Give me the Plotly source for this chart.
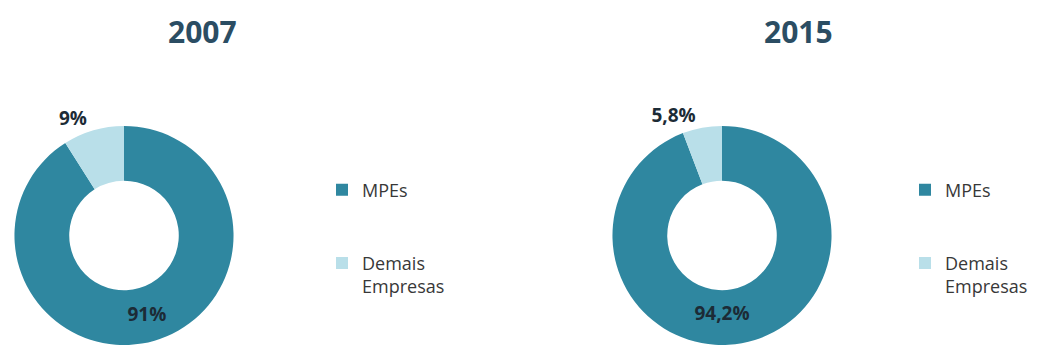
import plotly.graph_objects as go

# Share of companies by size, two survey years
years = ["2007", "2015"]
categories = ["MPEs", "Demais Empresas"]
legend_labels = ["MPEs", "Demais<br>Empresas"]
shares_2007 = [91.0, 9.0]
shares_2015 = [94.2, 5.8]

colors = ["#2f87a0", "#b9dfe9"]
label_color = "#1c2b36"
title_color = "#2b4d63"
W, H = 1045, 350


def fmt_pct(v):
    s = f"{v:.1f}".rstrip("0").rstrip(".")
    return s.replace(".", ",") + "%"


def donut(values, cx, legend_name, group):
    half = 112 / W
    return go.Pie(
        labels=[legend_labels[0] + "<br> <br> ", legend_labels[1]],
        values=values,
        text=[fmt_pct(v) for v in values],
        textinfo="text",
        textposition=["inside", "outside"],
        insidetextorientation="horizontal",
        textfont=dict(family="Open Sans", size=19, color=label_color, weight="bold"),
        hole=0.5,
        sort=False,
        direction="clockwise",
        rotation=0,
        marker=dict(colors=colors, line=dict(width=0)),
        domain=dict(x=[cx - half, cx + half], y=[0, 0.635]),
        legend=legend_name,
        legendgroup=group,
        showlegend=True,
    )


fig = go.Figure()
fig.add_trace(donut(shares_2007, 124 / W, "legend", "y2007"))
fig.add_trace(donut(shares_2015, 722 / W, "legend2", "y2015"))

legend_style = dict(
    font=dict(family="Open Sans", size=18, color="#383838"),
    valign="top",
    bgcolor="rgba(0,0,0,0)",
    yanchor="top",
    xanchor="left",
    traceorder="normal",
)
title_font = dict(family="Open Sans", size=30, color=title_color)
fig.update_layout(
    width=W,
    height=H,
    margin=dict(l=0, r=0, t=0, b=0),
    paper_bgcolor="white",
    plot_bgcolor="white",
    legend=dict(x=322 / W, y=1 - 174 / H, **legend_style),
    legend2=dict(x=905 / W, y=1 - 174 / H, **legend_style),
    annotations=[
        dict(text=f"<b>{years[0]}</b>", x=202 / W, y=1 - 32 / H,
             xref="paper", yref="paper", showarrow=False,
             xanchor="center", yanchor="middle", font=title_font),
        dict(text=f"<b>{years[1]}</b>", x=798 / W, y=1 - 32 / H,
             xref="paper", yref="paper", showarrow=False,
             xanchor="center", yanchor="middle", font=title_font),
    ],
)

fig.write_html("out.html")
